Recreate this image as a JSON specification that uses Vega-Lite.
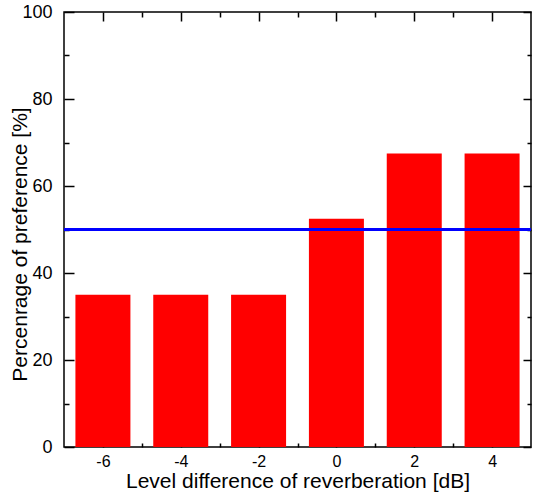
{
  "$schema": "https://vega.github.io/schema/vega-lite/v6.json",
  "width": 467,
  "height": 435,
  "autosize": {"type": "none"},
  "padding": {"left": 64, "top": 12, "right": 9, "bottom": 45},
  "background": "white",
  "config": {
    "view": {"stroke": "black", "strokeWidth": 1.5},
    "axis": {"domain": false, "grid": false, "tickColor": "black", "tickWidth": 1.5, "labelFont": "Liberation Sans", "titleFont": "Liberation Sans", "labelColor": "black", "titleColor": "black", "titleFontWeight": "normal"}
  },
  "data": {"values": [
    {"level": -6, "pct": 35},
    {"level": -4, "pct": 35},
    {"level": -2, "pct": 35},
    {"level": 0, "pct": 52.5},
    {"level": 2, "pct": 67.5},
    {"level": 4, "pct": 67.5}
  ]},
  "resolve": {"axis": {"x": "independent", "y": "independent"}},
  "layer": [
    {
      "mark": {"type": "bar", "color": "#ff0000", "size": 55},
      "encoding": {
        "x": {"field": "level", "type": "quantitative", "scale": {"domain": [-7, 5], "nice": false, "zero": false, "padding": 0},
          "axis": {"orient": "bottom", "values": [-6, -4, -2, 0, 2, 4], "offset": -7, "tickSize": 7, "labelExpr": "'' + datum.value", "labelFontSize": 16, "labelPadding": 6, "title": "Level difference of reverberation [dB]", "titleFontSize": 21, "titlePadding": 1}},
        "y": {"field": "pct", "type": "quantitative", "scale": {"domain": [0, 100], "nice": false},
          "axis": {"orient": "left", "values": [0, 20, 40, 60, 80, 100], "offset": -10, "tickSize": 10, "labelFontSize": 18, "labelPadding": 12, "title": "Percenrage of preference [%]", "titleFontSize": 21, "titlePadding": -9, "titleY": 232}}
      }
    },
    {
      "data": {"values": [{"ref": 50}]},
      "mark": {"type": "rule", "color": "#0000ff", "strokeWidth": 3},
      "encoding": {
        "y": {"field": "ref", "type": "quantitative", "scale": {"domain": [0, 100], "nice": false},
          "axis": {"orient": "right", "values": [0, 20, 40, 60, 80, 100], "offset": -8, "tickSize": 8, "labels": false, "title": null}}
      }
    },
    {
      "mark": {"type": "bar", "opacity": 0, "size": 1},
      "encoding": {
        "x": {"field": "level", "type": "quantitative", "scale": {"domain": [-7, 5], "nice": false, "zero": false, "padding": 0},
          "axis": {"orient": "top", "values": [-6, -4, -2, 0, 2, 4], "offset": -9, "tickSize": 9, "labels": false, "title": null}},
        "y": {"field": "pct", "type": "quantitative", "scale": {"domain": [0, 100], "nice": false},
          "axis": {"orient": "left", "values": [10, 30, 50, 70, 90], "offset": -5, "tickSize": 5, "labels": false, "title": null}}
      }
    },
    {
      "mark": {"type": "bar", "opacity": 0, "size": 1},
      "encoding": {
        "x": {"field": "level", "type": "quantitative", "scale": {"domain": [-7, 5], "nice": false, "zero": false, "padding": 0},
          "axis": {"orient": "bottom", "values": [-5, -3, -1, 1, 3], "offset": -4, "tickSize": 4, "labels": false, "title": null}},
        "y": {"field": "pct", "type": "quantitative", "scale": {"domain": [0, 100], "nice": false},
          "axis": {"orient": "right", "values": [10, 30, 50, 70, 90], "offset": -4, "tickSize": 4, "labels": false, "title": null}}
      }
    },
    {
      "mark": {"type": "bar", "opacity": 0, "size": 1},
      "encoding": {
        "x": {"field": "level", "type": "quantitative", "scale": {"domain": [-7, 5], "nice": false, "zero": false, "padding": 0},
          "axis": {"orient": "top", "values": [-5, -3, -1, 1, 3], "offset": -5, "tickSize": 5, "labels": false, "title": null}}
      }
    }
  ]
}
